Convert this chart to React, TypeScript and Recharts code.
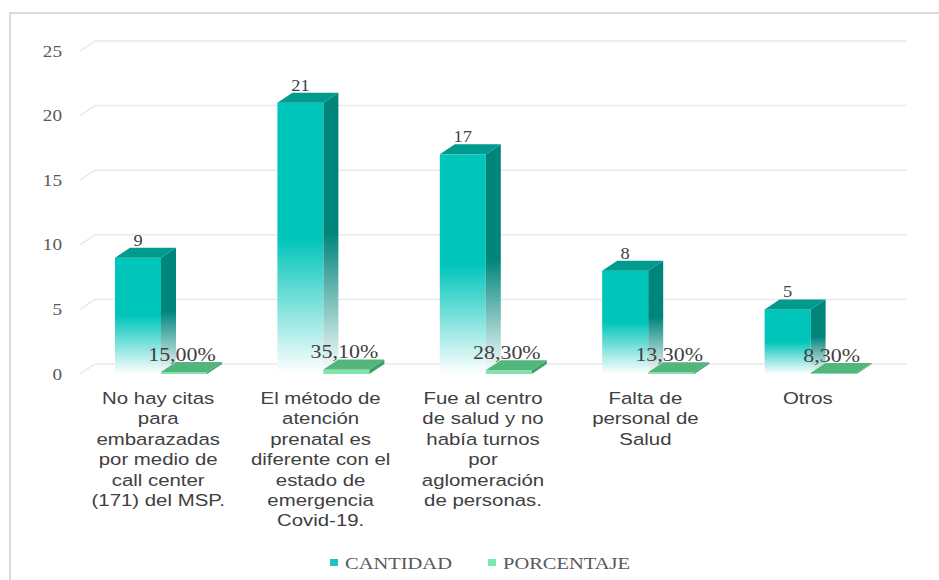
import React from "react";
import {
  BarChart,
  Bar,
  XAxis,
  YAxis,
  CartesianGrid,
  LabelList,
  Legend,
} from "recharts";

const categories = [
  "No hay citas\npara\nembarazadas\npor medio de\ncall center\n(171) del MSP.",
  "El método de\natención\nprenatal es\ndiferente con el\nestado de\nemergencia\nCovid-19.",
  "Fue al centro\nde salud y no\nhabía turnos\npor\naglomeración\nde personas.",
  "Falta de\npersonal de\nSalud",
  "Otros",
];
const cantidad = [9, 21, 17, 8, 5];
const porcentaje = [0.15, 0.351, 0.283, 0.133, 0.083];
const yTicks = [0, 5, 10, 15, 20, 25];

const data = categories.map((name, i) => ({
  name,
  cantidad: cantidad[i],
  porcentaje: porcentaje[i],
}));

const DX = 15;
const DY = -10;
const SERIF = "'Liberation Serif', 'Times New Roman', serif";
const SANS = "'Liberation Sans', Arial, sans-serif";

function StretchText({ x, y, size, family, fill, sx, anchor = "middle", children }: any) {
  return (
    <text
      transform={`translate(${x},${y}) scale(${sx},1)`}
      textAnchor={anchor}
      fontSize={size}
      fontFamily={family}
      fill={fill}
    >
      {children}
    </text>
  );
}

function gridLine(props: any) {
  const { x1, x2, y1 } = props;
  return (
    <path
      key={props.key ?? `g-${y1}`}
      d={`M${x1},${y1} L${x1 + DX},${y1 + DY} L${x2 + DX},${y1 + DY}`}
      fill="none"
      stroke="#e9e9e9"
      strokeWidth={1.5}
    />
  );
}

function CantidadBar(props: any) {
  const { x, y, width: w, height: h } = props;
  if (!h) return null;
  return (
    <g>
      <rect x={x} y={y} width={w} height={h} fill="url(#frontGrad)" />
      <path
        d={`M${x + w},${y} L${x + w + DX},${y + DY} L${x + w + DX},${y + h + DY} L${x + w},${y + h} Z`}
        fill="url(#sideGrad)"
      />
      <path
        d={`M${x},${y} L${x + DX},${y + DY} L${x + w + DX},${y + DY} L${x + w},${y} Z`}
        fill="#009a8e"
      />
    </g>
  );
}

function PorcentajeBar(props: any) {
  const { x, y, width: w, height: h } = props;
  return (
    <g>
      <rect x={x} y={y} width={w} height={h} fill="#7fe3aa" />
      <path
        d={`M${x + w},${y} L${x + w + DX},${y + DY} L${x + w + DX},${y + h + DY} L${x + w},${y + h} Z`}
        fill="#3f9f68"
      />
      <path
        d={`M${x},${y} L${x + DX},${y + DY} L${x + w + DX},${y + DY} L${x + w},${y} Z`}
        fill="#52b57c"
      />
    </g>
  );
}

function YTick(props: any) {
  const { y, payload } = props;
  return (
    <StretchText x={62} y={y + 5.5} size={16} family={SERIF} fill="#595959" sx={1.2} anchor="end">
      {payload.value}
    </StretchText>
  );
}

function XTick(props: any) {
  const { x, y, payload } = props;
  const lines = String(payload.value).split("\n");
  return (
    <g>
      {lines.map((line, i) => (
        <StretchText
          key={i}
          x={x - 3}
          y={y + 30 + i * 20.4}
          size={17}
          family={SANS}
          fill="#404040"
          sx={1.2}
        >
          {line}
        </StretchText>
      ))}
    </g>
  );
}

function CantidadLabel(props: any) {
  const { x, y, width, value } = props;
  return (
    <StretchText x={x + width / 2} y={y - 12} size={16} family={SERIF} fill="#404040" sx={1.15}>
      {value}
    </StretchText>
  );
}

function PorcentajeLabel(props: any) {
  const { x, y, width, value } = props;
  const txt = (value * 100).toFixed(2).replace(".", ",") + "%";
  return (
    <StretchText x={x + width / 2 - 2} y={y - 11} size={18} family={SERIF} fill="#404040" sx={1.22}>
      {txt}
    </StretchText>
  );
}

function LegendContent() {
  const item = (left: number, color: string, label: string) => (
    <div style={{ position: "absolute", left, top: 0, height: 30 }}>
      <span
        style={{
          position: "absolute",
          left: 0,
          top: 11,
          width: 8,
          height: 7,
          background: color,
        }}
      />
      <span
        style={{
          position: "absolute",
          left: 15,
          top: 4,
          fontFamily: SERIF,
          fontSize: 17.5,
          color: "#595959",
          whiteSpace: "nowrap",
          transform: "scaleX(1.17)",
          transformOrigin: "left center",
          lineHeight: "22px",
        }}
      >
        {label}
      </span>
    </div>
  );
  return (
    <div style={{ position: "relative", width: 939, height: 30 }}>
      {item(330, "#19c6bc", "CANTIDAD")}
      {item(488, "#7ee8a6", "PORCENTAJE")}
    </div>
  );
}

export default function App() {
  return (
    <div
      style={{
        position: "absolute",
        left: 0,
        top: 0,
        width: 939,
        height: 580,
        overflow: "hidden",
        background: "#fff",
      }}
    >
      <div
        style={{
          position: "absolute",
          left: 9,
          top: 12,
          width: 960,
          height: 600,
          borderTop: "2px solid #d9d9d9",
          borderLeft: "2px solid #d9d9d9",
        }}
      />
      <div style={{ position: "absolute", left: 0, top: 0 }}>
        <BarChart
          width={939}
          height={580}
          data={data}
          margin={{ top: 51, right: 47, left: 0, bottom: 2 }}
          barSize={46}
          barGap={0}
        >
          <defs>
            <linearGradient id="frontGrad" x1="0" y1="0" x2="0" y2="1">
              <stop offset="0" stopColor="#00c5ba" />
              <stop offset="0.5" stopColor="#00c5ba" />
              <stop offset="1" stopColor="#ffffff" />
            </linearGradient>
            <linearGradient id="sideGrad" x1="0" y1="0" x2="0" y2="1">
              <stop offset="0" stopColor="#00857b" />
              <stop offset="0.5" stopColor="#00857b" />
              <stop offset="1" stopColor="#ffffff" />
            </linearGradient>
          </defs>
          <CartesianGrid vertical={false} horizontal={gridLine} />
          <XAxis
            dataKey="name"
            height={174}
            axisLine={false}
            tickLine={false}
            tickSize={0}
            tickMargin={0}
            interval={0}
            tick={<XTick />}
          />
          <YAxis
            width={80}
            domain={[0, 25]}
            ticks={yTicks}
            axisLine={false}
            tickLine={false}
            tick={<YTick />}
          />
          <Legend verticalAlign="bottom" height={30} content={<LegendContent />} />
          <Bar dataKey="cantidad" name="CANTIDAD" shape={<CantidadBar />} isAnimationActive={false}>
            <LabelList dataKey="cantidad" content={<CantidadLabel />} />
          </Bar>
          <Bar dataKey="porcentaje" name="PORCENTAJE" shape={<PorcentajeBar />} isAnimationActive={false}>
            <LabelList dataKey="porcentaje" content={<PorcentajeLabel />} />
          </Bar>
        </BarChart>
      </div>
    </div>
  );
}
